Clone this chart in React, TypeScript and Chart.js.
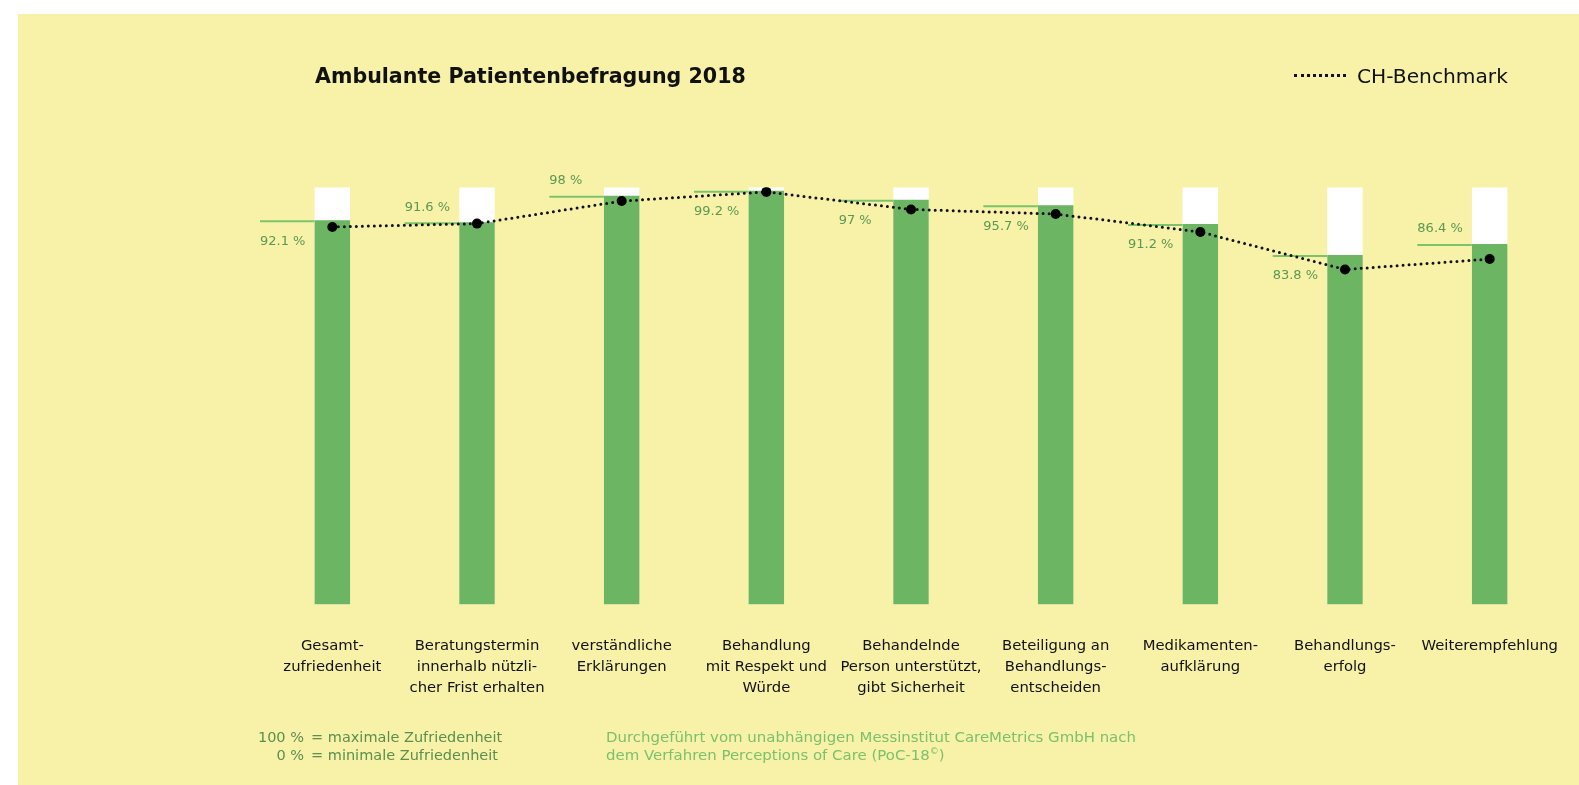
import React, { useEffect, useRef } from "react";
import { Chart, registerables } from "chart.js";

Chart.register(...registerables);

// ---- data ----
const categories: string[][] = [
  ["Gesamt-", "zufriedenheit"],
  ["Beratungstermin", "innerhalb nützli-", "cher Frist erhalten"],
  ["verständliche", "Erklärungen"],
  ["Behandlung", "mit Respekt und", "Würde"],
  ["Behandelnde", "Person unterstützt,", "gibt Sicherheit"],
  ["Beteiligung an", "Behandlungs-", "entscheiden"],
  ["Medikamenten-", "aufklärung"],
  ["Behandlungs-", "erfolg"],
  ["Weiterempfehlung"],
];
const satisfaction: number[] = [92.1, 91.6, 98, 99.2, 97, 95.7, 91.2, 83.8, 86.4];
const benchmark: number[] = [90.5, 91.3, 96.7, 98.9, 94.7, 93.6, 89.3, 80.3, 82.8];
const maximum: number[] = [100, 100, 100, 100, 100, 100, 100, 100, 100];
const labelSide: string[] = ["below", "above", "above", "below", "below", "below", "below", "below", "above"];

// ---- styles ----
const FONT = "'DejaVu Sans', sans-serif";
const BG = "#f7f2a8";
const BAR_GREEN = "#6cb562";
const LINE_GREEN = "#7cc46c";
const LABEL_GREEN = "#5b9852";
const FOOT_DARK = "#5b8e4f";
const FOOT_LIGHT = "#7cbf6d";

const refPlugin = {
  id: "refLines",
  beforeDatasetsDraw(chart: any) {
    const meta = chart.getDatasetMeta(1);
    const area = chart.chartArea;
    const catW = (area.right - area.left) / satisfaction.length;
    const ctx = chart.ctx;
    ctx.save();
    meta.data.forEach((bar: any, i: number) => {
      const p = bar.getProps(["x", "y", "width"], true);
      const left = p.x - catW / 2;
      const barLeft = p.x - p.width / 2;
      ctx.strokeStyle = LINE_GREEN;
      ctx.lineWidth = 2;
      ctx.beginPath();
      ctx.moveTo(left, p.y + 1);
      ctx.lineTo(barLeft, p.y + 1);
      ctx.stroke();
      ctx.fillStyle = LABEL_GREEN;
      ctx.font = `13px ${FONT}`;
      ctx.textAlign = "left";
      ctx.textBaseline = "middle";
      const ty = labelSide[i] === "above" ? p.y - 15 : p.y + 21;
      ctx.fillText(`${satisfaction[i]} %`, left, ty);
    });
    ctx.restore();
  },
};

export default function App() {
  const ref = useRef<HTMLCanvasElement | null>(null);

  useEffect(() => {
    if (!ref.current) return;
    const chart = new Chart(ref.current, {
      type: "bar",
      data: {
        labels: categories,
        datasets: [
          {
            type: "bar",
            label: "max",
            data: maximum,
            backgroundColor: "#ffffff",
            grouped: false,
            order: 3,
            barPercentage: 0.245,
            categoryPercentage: 1,
          } as any,
          {
            type: "bar",
            label: "Zufriedenheit",
            data: satisfaction,
            backgroundColor: BAR_GREEN,
            grouped: false,
            order: 2,
            barPercentage: 0.245,
            categoryPercentage: 1,
          } as any,
          {
            type: "line",
            label: "CH-Benchmark",
            data: benchmark,
            borderColor: "#111111",
            borderWidth: 3,
            borderDash: [0, 6],
            borderCapStyle: "round",
            pointRadius: 5,
            pointBackgroundColor: "#000000",
            pointBorderWidth: 0,
            tension: 0,
            order: 1,
          } as any,
        ],
      },
      options: {
        animation: false,
        responsive: true,
        maintainAspectRatio: false,
        layout: { padding: { left: 242, right: 17, top: 173.3, bottom: 86 } },
        plugins: {
          legend: { display: false },
          tooltip: { enabled: false },
          title: { display: false },
        },
        scales: {
          x: {
            grid: { display: false, drawTicks: false },
            border: { display: false },
            ticks: {
              padding: 31.5,
              color: "#111111",
              maxRotation: 0,
              autoSkip: false,
              font: { family: FONT, size: 14.8, lineHeight: "21px" },
            },
            afterFit: (scale: any) => {
              scale.paddingLeft = 0;
              scale.paddingRight = 0;
              scale.height = 94.5;
            },
          },
          y: { display: false, min: 0, max: 100 },
        },
      } as any,
      plugins: [refPlugin],
    });
    return () => chart.destroy();
  }, []);

  return (
    <div
      style={{
        position: "absolute",
        left: 18,
        top: 14,
        width: 1561,
        height: 771,
        background: BG,
        fontFamily: FONT,
        overflow: "hidden",
      }}
    >
      <canvas ref={ref} style={{ position: "absolute", left: 0, top: 0 }} />
      <div
        style={{
          position: "absolute",
          left: 297,
          top: 61.5,
          transform: "translateY(-50%)",
          fontWeight: "bold",
          fontSize: 20.6,
          lineHeight: 1,
          color: "#111",
          whiteSpace: "nowrap",
        }}
      >
        Ambulante Patientenbefragung 2018
      </div>
      <div
        style={{
          position: "absolute",
          left: 1276,
          top: 60,
          width: 52,
          borderTop: "3px dotted #111",
        }}
      />
      <div
        style={{
          position: "absolute",
          left: 1339,
          top: 61.5,
          transform: "translateY(-50%)",
          fontSize: 20.2,
          lineHeight: 1,
          color: "#111",
          whiteSpace: "nowrap",
        }}
      >
        CH-Benchmark
      </div>
      <div
        style={{
          position: "absolute",
          left: 200,
          top: 714,
          width: 86,
          textAlign: "right",
          fontSize: 14.5,
          lineHeight: "18px",
          color: FOOT_DARK,
        }}
      >
        100 %
        <br />0 %
      </div>
      <div
        style={{
          position: "absolute",
          left: 293,
          top: 714,
          fontSize: 14.5,
          lineHeight: "18px",
          color: FOOT_DARK,
          whiteSpace: "nowrap",
        }}
      >
        = maximale Zufriedenheit
        <br />= minimale Zufriedenheit
      </div>
      <div
        style={{
          position: "absolute",
          left: 588,
          top: 714,
          fontSize: 14.95,
          lineHeight: "18px",
          color: FOOT_LIGHT,
          whiteSpace: "nowrap",
        }}
      >
        Durchgeführt vom unabhängigen Messinstitut CareMetrics GmbH nach
        <br />
        dem Verfahren Perceptions of Care (PoC-18<sup style={{ fontSize: "0.6em", lineHeight: 0 }}>©</sup>)
      </div>
    </div>
  );
}
